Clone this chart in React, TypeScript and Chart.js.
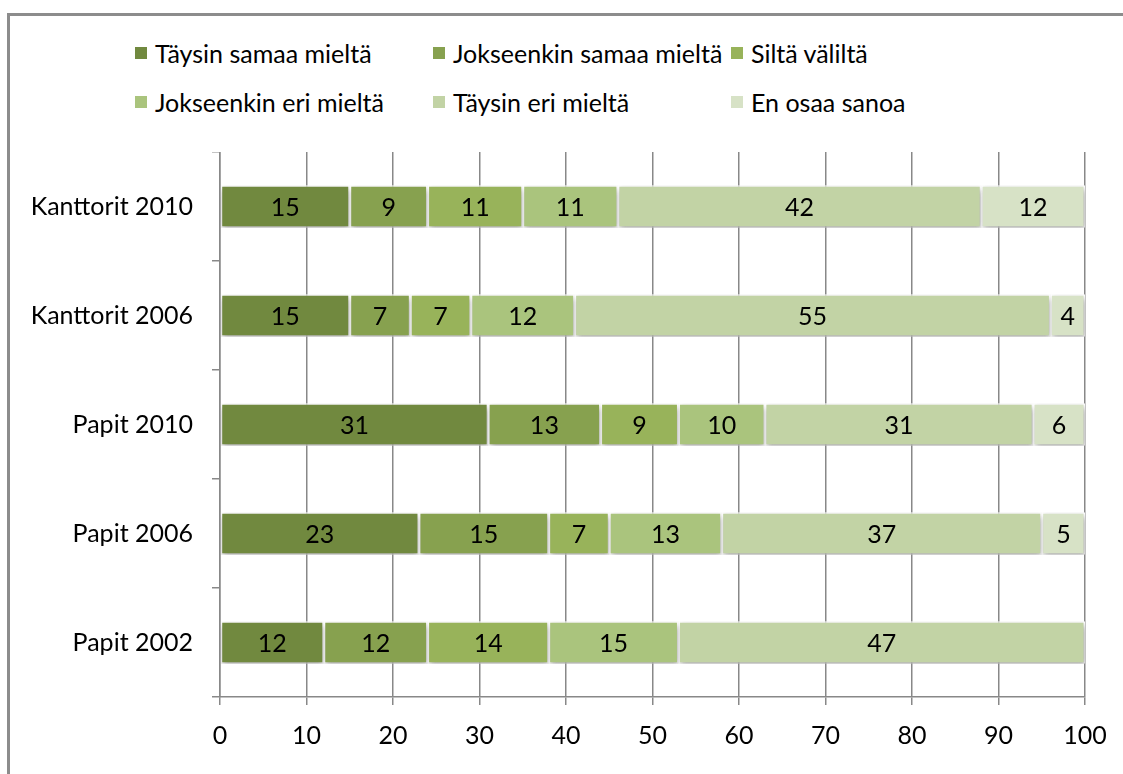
import React, { useEffect, useRef } from "react";
import { Chart, registerables } from "chart.js";

Chart.register(...registerables);

const categories = ["Kanttorit 2010", "Kanttorit 2006", "Papit 2010", "Papit 2006", "Papit 2002"];
const seriesNames = [
  "Täysin samaa mieltä",
  "Jokseenkin samaa mieltä",
  "Siltä väliltä",
  "Jokseenkin eri mieltä",
  "Täysin eri mieltä",
  "En osaa sanoa",
];
const taysinSamaa = [15, 15, 31, 23, 12];
const jokseenkinSamaa = [9, 7, 13, 15, 12];
const siltaValilta = [11, 7, 9, 7, 14];
const jokseenkinEri = [11, 12, 10, 13, 15];
const taysinEri = [42, 55, 31, 37, 47];
const enOsaa = [12, 4, 6, 5, 0];
const seriesValues = [taysinSamaa, jokseenkinSamaa, siltaValilta, jokseenkinEri, taysinEri, enOsaa];
const xMin = 0;
const xMax = 100;
const xStep = 10;

const colors = ["#71893f", "#87a14f", "#98b35a", "#aac47d", "#c2d3a5", "#d7e2c6"];

const FONT = "Lato, 'Liberation Sans', sans-serif";
const FONT_SIZE = 25;
const GRID = "#888888";

const shadowPlugin = {
  id: "barShadow",
  beforeDatasetDraw(chart: any) {
    const ctx = chart.ctx;
    ctx.save();
    ctx.shadowColor = "rgba(0,0,0,0.35)";
    ctx.shadowBlur = 6;
    ctx.shadowOffsetX = 1;
    ctx.shadowOffsetY = 3;
  },
  afterDatasetDraw(chart: any) {
    chart.ctx.restore();
  },
};

const labelPlugin = {
  id: "segLabels",
  afterDatasetsDraw(chart: any) {
    const ctx = chart.ctx;
    ctx.save();
    ctx.font = `${FONT_SIZE}px ${FONT}`;
    ctx.fillStyle = "#000";
    ctx.textAlign = "center";
    ctx.textBaseline = "middle";
    chart.data.datasets.forEach((ds: any, i: number) => {
      const meta = chart.getDatasetMeta(i);
      meta.data.forEach((bar: any, j: number) => {
        const v = ds.data[j];
        if (!v) return;
        const p = bar.getProps(["x", "y", "base"], true);
        ctx.fillText(String(v), (p.x + p.base) / 2, p.y + 1);
      });
    });
    ctx.restore();
  },
};

export default function App() {
  const ref = useRef<HTMLCanvasElement | null>(null);

  useEffect(() => {
    if (!ref.current) return;
    const chart = new Chart(ref.current, {
      type: "bar",
      data: {
        labels: categories,
        datasets: seriesNames.map((name, i) => ({
          label: name,
          data: seriesValues[i],
          backgroundColor: colors[i],
          borderColor: "#ffffff",
          borderWidth: 1.5,
          borderSkipped: false,
          categoryPercentage: 1,
          barPercentage: 0.39,
        })),
      },
      options: {
        indexAxis: "y",
        animation: false,
        responsive: false,
        layout: { padding: { left: 0, right: 38, top: 0, bottom: 0 } },
        plugins: {
          legend: { display: false },
          tooltip: { enabled: false },
        },
        scales: {
          x: {
            stacked: true,
            min: xMin,
            max: xMax,
            afterFit(scale: any) {
              scale.height = 77;
            },
            ticks: {
              stepSize: xStep,
              color: "#000",
              padding: 16,
              font: { family: FONT, size: FONT_SIZE },
            },
            grid: {
              color: GRID,
              lineWidth: 1.5,
              drawTicks: true,
              tickLength: 8,
            },
            border: { display: true, color: GRID, width: 1.5 },
          },
          y: {
            stacked: true,
            afterFit(scale: any) {
              scale.width = 220;
              scale.paddingTop = 0;
              scale.paddingBottom = 0;
            },
            ticks: {
              color: "#000",
              padding: 19,
              font: { family: FONT, size: FONT_SIZE },
            },
            grid: {
              offset: true,
              drawOnChartArea: false,
              drawTicks: true,
              tickLength: 8,
              color: GRID,
              lineWidth: 1.5,
            },
            border: { display: true, color: GRID, width: 1.5 },
          },
        },
      },
      plugins: [shadowPlugin, labelPlugin],
    });
    return () => chart.destroy();
  }, []);

  const legendCols = [135, 433, 731];
  const legendRows = [53, 102];

  return (
    <div style={{ position: "fixed", left: 0, top: 0, width: 1123, height: 774, overflow: "hidden", background: "#fff" }}>
      <div
        style={{
          position: "absolute",
          left: 7,
          top: 13,
          width: 1200,
          height: 900,
          border: "3px solid #8c8c8c",
          boxSizing: "border-box",
        }}
      />
      {seriesNames.map((name, i) => {
        const col = legendCols[i % 3];
        const row = legendRows[Math.floor(i / 3)];
        return (
          <div
            key={name}
            style={{
              position: "absolute",
              left: col,
              top: row - 16,
              height: 32,
              display: "flex",
              alignItems: "center",
              fontFamily: FONT,
              fontSize: FONT_SIZE,
              color: "#000",
              whiteSpace: "nowrap",
            }}
          >
            <span style={{ display: "inline-block", width: 12, height: 12, background: colors[i], marginRight: 8 }} />
            <span>{name}</span>
          </div>
        );
      })}
      <canvas
        ref={ref}
        width={1123}
        height={622}
        style={{ position: "absolute", left: 0, top: 152, width: 1123, height: 622 }}
      />
    </div>
  );
}
